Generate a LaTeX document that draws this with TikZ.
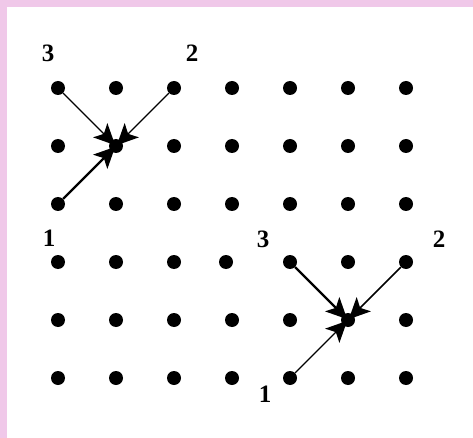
\documentclass[tikz,border=0pt]{standalone}
\usepackage{fontspec}
\setmainfont{Liberation Serif}
\usetikzlibrary{arrows.meta}
\definecolor{bordpink}{RGB}{240,200,233}
\tikzset{
  gdot/.style={circle,fill=black,inner sep=0pt,minimum size=14pt},
  lbl/.style={font=\fontsize{25}{27}\selectfont\bfseries,inner sep=0pt},
  arr/.style={-{Stealth[length=21pt,width=20pt,inset=5pt]},line width=1.6pt,shorten >=-6pt}
}
\begin{document}
\begin{tikzpicture}[x=1pt,y=-1pt]
\useasboundingbox (0,0) rectangle (473,438);
\fill[white] (0,0) rectangle (473,438);
\fill[bordpink] (0,0) rectangle (473,7);
\fill[bordpink] (0,0) rectangle (7,438);
% dots
\foreach \r in {1,...,6}{
  \foreach \c in {1,...,7}{
    \pgfmathsetmacro{\xx}{58+58*(\c-1)}
    \pgfmathsetmacro{\yy}{88+58*(\r-1)}
    \ifnum\r=4 \ifnum\c=4 \pgfmathsetmacro{\xx}{226}\fi\fi
    \node[gdot] (d-\r-\c) at (\xx,\yy) {};
  }
}
% labels
\node[lbl] (la3) at (48,53) {3};
\node[lbl] (la2) at (192,53) {2};
\node[lbl] (la1) at (49,238) {1};
\node[lbl] (lb3) at (263,239) {3};
\node[lbl] (lb2) at (439,239) {2};
\node[lbl] (lb1) at (265,394) {1};
% arrows top-left
\draw[arr,line width=1.3pt] (d-1-1) -- (d-2-2);
\draw[arr,line width=1.3pt] (d-1-3) -- (d-2-2);
\draw[arr,line width=2.2pt] (d-3-1) -- (d-2-2);
% arrows bottom-right
\draw[arr,line width=2.4pt] (d-4-5) -- (d-5-6);
\draw[arr,line width=1.6pt] (d-4-7) -- (d-5-6);
\draw[arr,line width=1.3pt] (d-6-5) -- (d-5-6);
\end{tikzpicture}
\end{document}
